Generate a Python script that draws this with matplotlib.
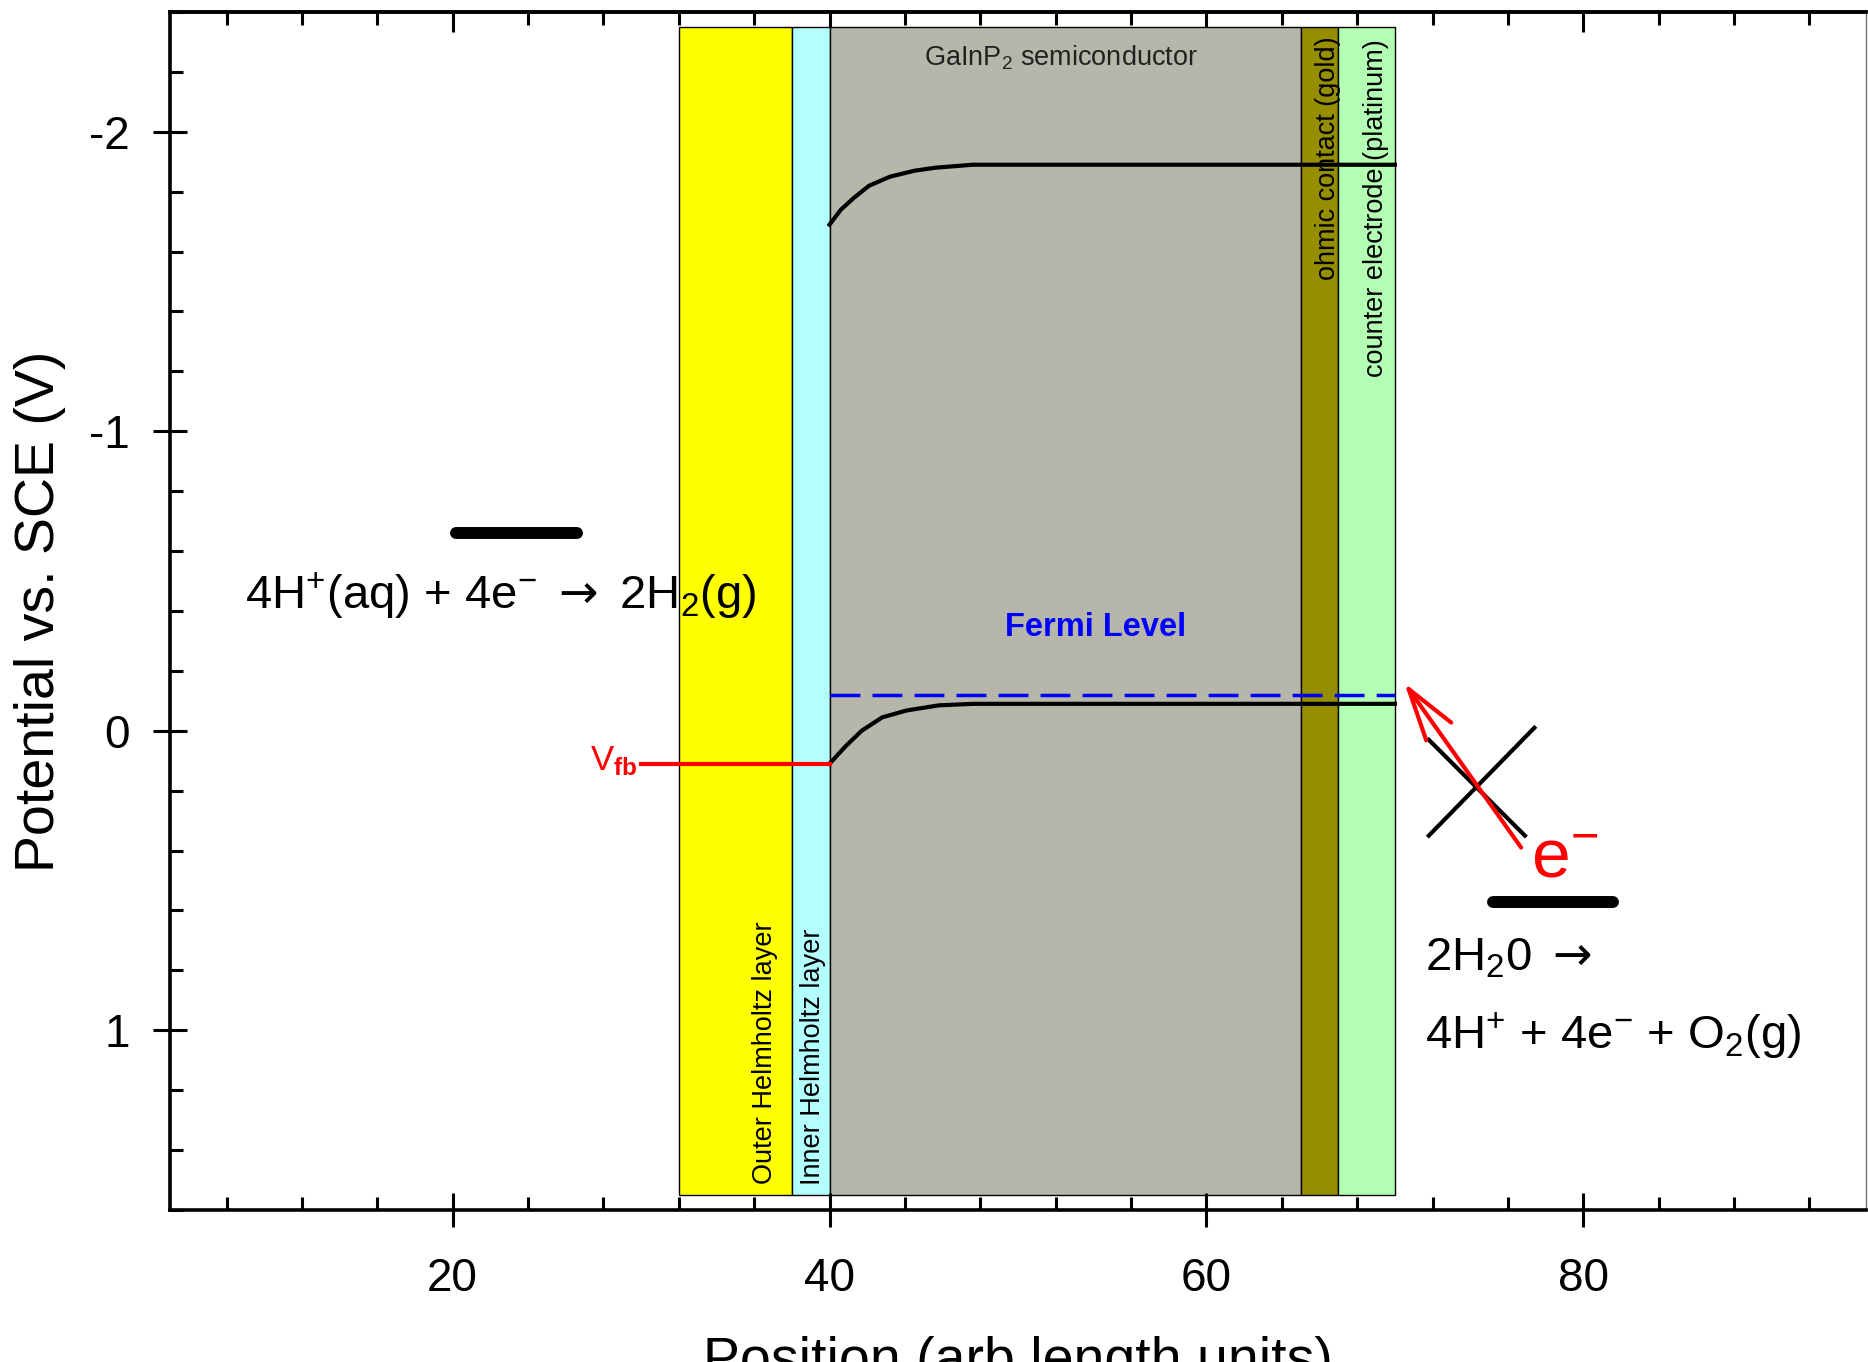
import matplotlib
matplotlib.use("Agg")
import matplotlib.pyplot as plt
from matplotlib.ticker import MultipleLocator

plt.rcParams['font.family'] = ['Liberation Sans', 'DejaVu Sans']
plt.rcParams['mathtext.fontset'] = 'custom'
plt.rcParams['mathtext.rm'] = 'Liberation Sans'
plt.rcParams['mathtext.it'] = 'Liberation Sans:italic'
plt.rcParams['mathtext.bf'] = 'Liberation Sans:bold'
plt.rcParams['mathtext.sf'] = 'DejaVu Sans'
plt.rcParams['axes.unicode_minus'] = False

# layers of the cell, left to right (position in arb. units)
layer_edges = [32, 38, 40, 65, 67, 70]
layer_colors = ['#FFFF00', '#B3FFFF', '#B7B6AA', '#958F00', '#B3FFB3']
layer_top = -2.35
layer_bottom = 1.55

# upper band edge (conduction band)
cb_x = [40.0, 40.6, 41.3, 42.1, 43.2, 44.5, 45.6, 47.6, 70.0]
cb_y = [-1.69, -1.74, -1.78, -1.82, -1.85, -1.87, -1.88, -1.89, -1.89]

# lower band edge
vb_x = [40.0, 40.8, 41.7, 42.8, 44.1, 45.8, 47.6, 70.0]
vb_y = [0.11, 0.055, 0.0, -0.045, -0.068, -0.085, -0.09, -0.09]

fermi_x = [40, 70]
fermi_level = -0.12
vfb_x = [30, 40]
vfb_level = 0.11

# redox levels
h2_x = [20.2, 26.6]
h2_level = -0.66
o2_x = [75.2, 81.6]
o2_level = 0.57

# blocked electron transfer
arrow_tail = (76.7, 0.39)
arrow_head = (70.5, -0.16)
cross_a_x, cross_a_y = [71.8, 76.9], [0.03, 0.35]
cross_b_x, cross_b_y = [71.8, 77.4], [0.35, -0.01]

ARROW = r'$\mathsf{\rightarrow}$'

fig = plt.figure(figsize=(18.68, 13.62), dpi=100)
ax = fig.add_axes([170 / 1868, 152 / 1362, 1696 / 1868, 1198 / 1362])

lefts = layer_edges[:-1]
widths = [b - a for a, b in zip(layer_edges[:-1], layer_edges[1:])]
ax.bar(lefts, layer_bottom - layer_top, width=widths, bottom=layer_top,
       align='edge', color=layer_colors, edgecolor='black', linewidth=1.0, zorder=1)

ax.plot(cb_x, cb_y, color='black', lw=3, zorder=5)
ax.plot(vb_x, vb_y, color='black', lw=3, zorder=5)
ax.plot(fermi_x, [fermi_level] * 2, color='#0000FF', lw=2.5,
        linestyle=(0, (8.6, 3.5)), zorder=5)
ax.plot(vfb_x, [vfb_level] * 2, color='#FF0000', lw=3, zorder=5)

ax.plot(h2_x, [h2_level] * 2, color='black', lw=8.6, solid_capstyle='round', zorder=5)
ax.plot(o2_x, [o2_level] * 2, color='black', lw=8.6, solid_capstyle='round', zorder=5)

ax.plot(cross_a_x, cross_a_y, color='black', lw=3, zorder=5)
ax.plot(cross_b_x, cross_b_y, color='black', lw=3, zorder=5)
ax.annotate('', xy=arrow_head, xytext=arrow_tail,
            arrowprops=dict(arrowstyle='->,head_length=3.75,head_width=1.1',
                            color='#FF0000', lw=3, mutation_scale=10,
                            shrinkA=0, shrinkB=0), zorder=6)

# labels
ax.text(9.0, -0.408, r'4H$^{+}$(aq) + 4e$^{-}$ ' + ARROW + r' 2H$_{2}$(g)', fontsize=34,
        ha='left', va='baseline', zorder=3)
ax.text(71.6, 0.80, r'2H$_{2}$0 ' + ARROW, fontsize=34, ha='left', va='baseline', zorder=3)
ax.text(71.6, 1.061, r'4H$^{+}$ + 4e$^{-}$ + O$_{2}$(g)', fontsize=34,
        ha='left', va='baseline', zorder=3)
ax.text(54.1, -0.315, 'Fermi Level', fontsize=23.5, fontweight='bold',
        color='#0000FF', ha='center', va='baseline', zorder=3)
ax.text(27.3, 0.133, r'V$_{\mathbf{fb}}$', fontsize=25, color='#FF0000',
        ha='left', va='baseline', zorder=3)
ax.text(77.2, 0.489, r'e$^{-}$', fontsize=50, color='#FF0000',
        ha='left', va='baseline', zorder=3)
ax.text(52.3, -2.22, r'GaInP$_{2}$ semiconductor', fontsize=19.5, color='#222222',
        ha='center', va='baseline', zorder=3)
ax.text(36.55, 1.512, 'Outer Helmholtz layer', fontsize=19.5, rotation=90,
        ha='center', va='bottom', zorder=3)
ax.text(39.12, 1.515, 'Inner Helmholtz layer', fontsize=19.5, rotation=90,
        ha='center', va='bottom', zorder=3)
ax.text(66.45, -2.32, 'ohmic contact (gold)', fontsize=19.5, rotation=90,
        ha='center', va='top', zorder=3)
ax.text(69.0, -2.31, 'counter electrode (platinum)', fontsize=19.5, rotation=90,
        ha='center', va='top', zorder=3)

ax.set_xlim(5, 95)
ax.set_ylim(1.6, -2.4)

ax.xaxis.set_major_locator(MultipleLocator(20))
ax.xaxis.set_minor_locator(MultipleLocator(4))
ax.yaxis.set_major_locator(MultipleLocator(1))
ax.yaxis.set_minor_locator(MultipleLocator(0.2))

ax.tick_params(which='major', direction='inout', length=24, width=2.2, labelsize=33,
               top=False, right=False)
ax.tick_params(which='minor', direction='in', length=9.6, width=2.2,
               top=False, right=False)
ax.tick_params(axis='x', which='major', pad=22)
ax.tick_params(axis='y', which='major', pad=17)

secax = ax.secondary_xaxis('top')
secax.xaxis.set_major_locator(MultipleLocator(20))
secax.xaxis.set_minor_locator(MultipleLocator(4))
secax.tick_params(which='major', direction='in', length=14.4, width=2.2, labeltop=False)
secax.tick_params(which='minor', direction='in', length=9.6, width=2.2)
secax.spines['top'].set_linewidth(2.6)

for side in ['left', 'bottom', 'top']:
    ax.spines[side].set_linewidth(2.6)
ax.spines['right'].set_linewidth(1.0)
ax.spines['right'].set_color('#707070')

# the reference crops the x label at the bottom edge
ax.set_xlabel('Position (arb length units)', fontsize=40)
ax.xaxis.set_label_coords(0.5, -0.1055)
ax.set_ylabel('Potential vs. SCE (V)', fontsize=40)
ax.yaxis.set_label_coords(-0.0616, 0.5)

fig.savefig('out.png', dpi=100)
